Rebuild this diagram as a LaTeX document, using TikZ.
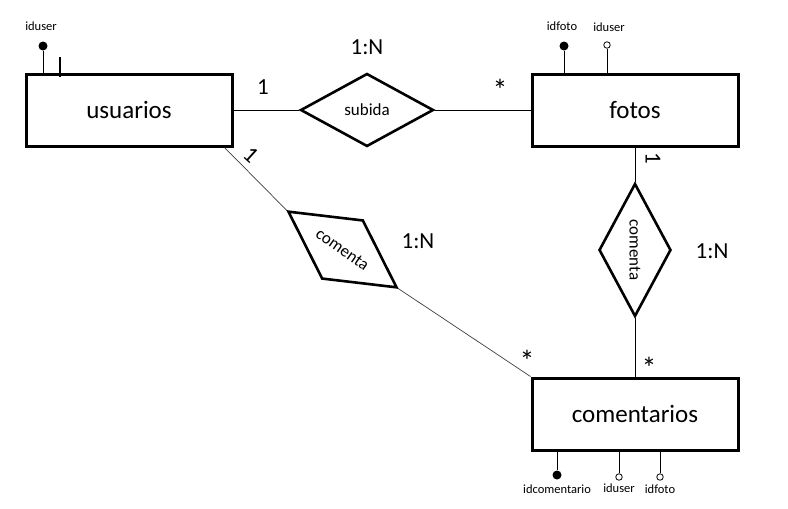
\documentclass[tikz,border=0pt]{standalone}
\usepackage{fontspec}
\setmainfont{Carlito}
\usetikzlibrary{shapes.geometric}
\begin{document}
\begin{tikzpicture}[x=1pt,y=-1pt,
 entity/.style={draw, line width=3pt, minimum width=206pt, minimum height=72pt, inner sep=0pt, font=\fontsize{25}{30}\selectfont},
 rel/.style={draw, diamond, line width=2.6pt, minimum width=133pt, minimum height=73pt, inner sep=0pt, font=\fontsize{17}{20}\selectfont},
 conn/.style={line width=1pt},
 diag/.style={line width=0.7pt, draw=black!75},
 card/.style={font=\fontsize{23}{28}\selectfont, inner sep=0pt},
 star/.style={font=\fontsize{30}{34}\selectfont, inner sep=0pt},
 attr/.style={font=\fontsize{12.5}{15}\selectfont, inner sep=0pt},
 pk/.style={circle, fill, inner sep=0pt, minimum size=9pt},
 fk/.style={circle, draw, line width=0.8pt, fill=white, inner sep=0pt, minimum size=6.5pt}]
\useasboundingbox[fill=white] (0,0) rectangle (788,509);

% entities
\node[entity] (u) at (129,110) {usuarios};
\node[entity] (f) at (635,110) {fotos};
\node[entity] (cm) at (635,414) {comentarios};

% relationships
\node[rel] (s) at (367,110) {subida};
\node[rel, minimum width=133pt, minimum height=72pt, rotate=-90] (cf) at (635,250) {comenta};
\node[rel, minimum width=133pt, minimum height=72pt, rotate=-35] (cu) at (342.5,249.5) {comenta};

% connectors
\draw[conn] (u.east) -- (s.west);
\draw[conn] (s.east) -- (f.west);
\draw[conn] (f.south) -- (cf.west);
\draw[conn] (cf.east) -- (cm.north);
\draw[diag] ([xshift=-9pt]u.south east) -- (cu.west);
\draw[diag] (cu.east) -- (cm.north west);

% cardinalities
\node[card] (n1) at (367,47) {1:N};
\node[card] (n2) at (263,87) {1};
\node[star] (n3) at (500,90) {*};
\node[card, rotate=-42] (n4) at (251,155) {1};
\node[card] (n5) at (418,241) {1:N};
\node[star] (n6) at (527,361) {*};
\node[card, rotate=-90] (n7) at (653,158) {1};
\node[card] (n8) at (712,251) {1:N};
\node[star] (n9) at (649,368) {*};

% attributes: usuarios
\node[pk] (a1) at (43,46) {};
\draw[conn] (a1) -- (a1 |- u.north);
\node[attr] (l1) at (41,26) {iduser};
\coordinate (t1) at (60,57);
\draw[line width=1.6pt] (t1) -- ++(0,20);

% attributes: fotos
\node[pk] (a2) at (564,46) {};
\draw[conn] (a2) -- (a2 |- f.north);
\node[attr] (l2) at (562,26) {idfoto};
\node[fk] (a3) at (607,45) {};
\draw[conn] (a3) -- (a3 |- f.north);
\node[attr] (l3) at (609,27) {iduser};

% attributes: comentarios
\node[pk] (a4) at (557,475) {};
\draw[conn] (a4) -- (a4 |- cm.south);
\node[attr] (l4) at (557,489) {idcomentario};
\node[fk] (a5) at (619,477) {};
\draw[conn] (a5) -- (a5 |- cm.south);
\node[attr] (l5) at (619,488) {iduser};
\node[fk] (a6) at (660,477) {};
\draw[conn] (a6) -- (a6 |- cm.south);
\node[attr] (l6) at (660,489) {idfoto};
\end{tikzpicture}
\end{document}
